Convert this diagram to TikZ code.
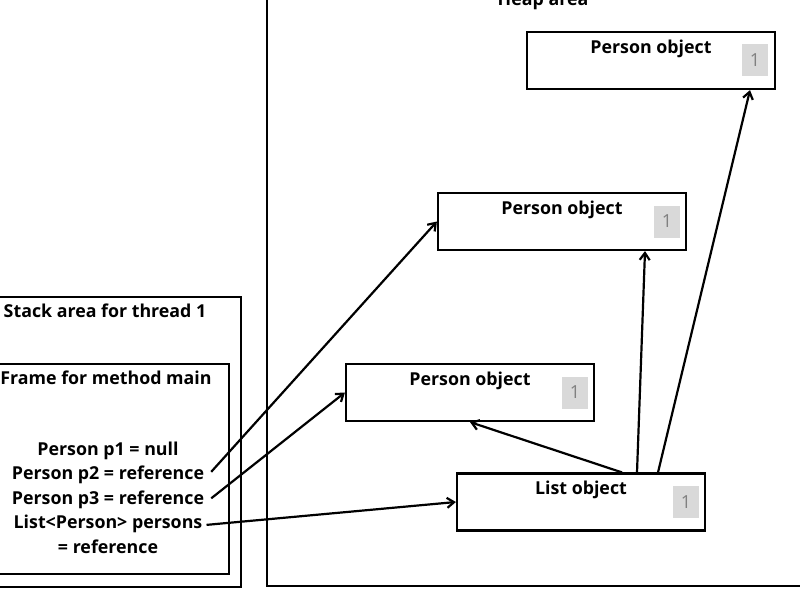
\documentclass[tikz,border=0pt]{standalone}
\usepackage{fontspec}
\setmainfont{Open Sans}
\usetikzlibrary{arrows.meta}
\tikzset{
  area/.style={draw, line width=2.2pt},
  objbox/.style={draw, line width=2.2pt, minimum width=248pt, minimum height=57pt, inner sep=0pt},
  title/.style={font=\fontsize{17.8}{21}\selectfont\bfseries, inner sep=0pt, anchor=north},
  badge/.style={fill=black!15, text=black!50, minimum width=26pt, minimum height=32pt, inner sep=0pt, font=\fontsize{18}{20}\selectfont},
  var/.style={font=\fontsize{17.8}{21}\selectfont\bfseries, inner sep=0pt, anchor=base},
  ref/.style={-{Straight Barb[length=7pt,width=10pt,line width=2.2pt]}, line width=2.2pt},
}
\begin{document}
\begin{tikzpicture}[x=1pt,y=-1pt]
\useasboundingbox (0,0) rectangle (800,591);
\clip (0,0) rectangle (800,591);
% heap area
\draw[area] (267,-20) rectangle (820,586);
\node[title, anchor=base] (heaptitle) at (543,6) {Heap area};
% stack area
\draw[area] (-20,297) rectangle (241,587);
\node[title, anchor=base] (stacktitle) at (105,317) {Stack area for thread 1};
\draw[area] (-20,364) rectangle (229,574);
\node[title, anchor=base] (frametitle) at (106,384) {Frame for method main};
\node[var] (p1) at (108,455) {Person p1 = null};
\node[var] (p2) at (108,479.5) {Person p2 = reference};
\node[var] (p3) at (108,504) {Person p3 = reference};
\node[var] (persons) at (108,528.5) {List<Person> persons};
\node[var] (ref) at (108,553) {= reference};
% heap objects
\node[objbox] (obj1) at (651,60.5) {};
\node[title] at ([yshift=-8.5pt]obj1.north) {Person object};
\node[badge, anchor=east] at ([xshift=-8pt]obj1.east) {1};
\node[objbox] (obj2) at (562,221.5) {};
\node[title] at ([yshift=-8.5pt]obj2.north) {Person object};
\node[badge, anchor=east] at ([xshift=-7pt]obj2.east) {1};
\node[objbox] (obj3) at (470,392.5) {};
\node[title] at ([yshift=-8.5pt]obj3.north) {Person object};
\node[badge, anchor=east] at ([xshift=-7pt]obj3.east) {1};
\node[objbox] (list) at (581,502) {};
\node[title] at ([yshift=-8.5pt]list.north) {List object};
\node[badge, anchor=east] at ([xshift=-7pt]list.east) {1};
% references
\draw[ref] ([xshift=7pt,yshift=3pt]p2.east) -- (obj2.west);
\draw[ref] ([xshift=7pt,yshift=1pt]p3.east) -- (obj3.west);
\draw[ref] ([xshift=4pt,yshift=-1pt]persons.east) -- (list.west);
\draw[ref] ([xshift=41pt]list.north) -- (obj3.south);
\draw[ref] ([xshift=56pt]list.north) -- ([xshift=83pt]obj2.south);
\draw[ref] ([xshift=77pt]list.north) -- ([xshift=99pt]obj1.south);
\end{tikzpicture}
\end{document}
